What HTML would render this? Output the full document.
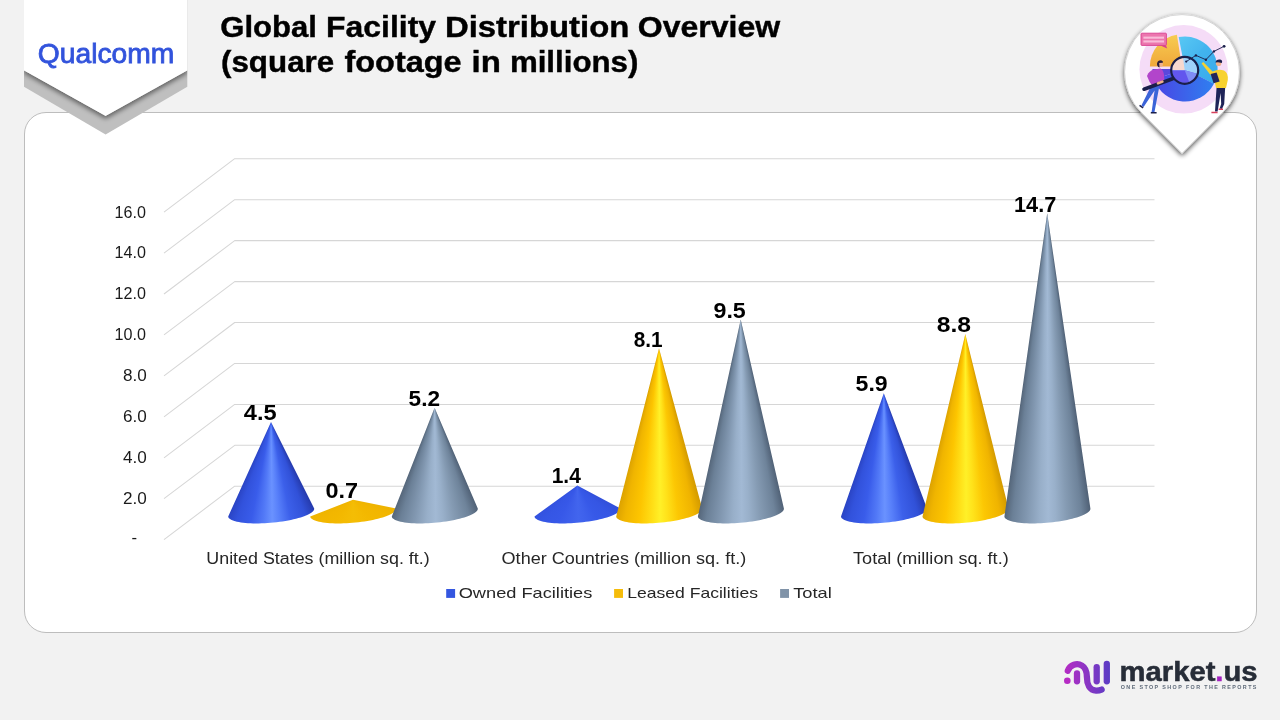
<!DOCTYPE html>
<html lang="en">
<head>
<meta charset="utf-8">
<title>Global Facility Distribution Overview (square footage in millions)</title>
<style>
html,body{margin:0;padding:0;background:#f2f2f2;}
#page{position:relative;width:1280px;height:720px;overflow:hidden;background:#f2f2f2;font-family:"Liberation Sans",sans-serif;}
#page svg{position:absolute;left:0;top:0;width:1280px;height:720px;}
.cone{position:absolute;}
text{font-family:"Liberation Sans",sans-serif;}
</style>
</head>
<body>
<div id="page">

<!-- ===== base layer: card, banner, gridlines ===== -->
<svg viewBox="0 0 1280 720">
  <defs>
    <filter id="bannerShadow" x="-20%" y="-20%" width="140%" height="150%">
      <feGaussianBlur in="SourceAlpha" stdDeviation="2.4"/>
      <feOffset dx="0" dy="3"/>
      <feComponentTransfer><feFuncA type="linear" slope="0.5"/></feComponentTransfer>
      <feMerge><feMergeNode/><feMergeNode in="SourceGraphic"/></feMerge>
    </filter>
    <clipPath id="grayClip"><path d="M24 0 H187.3 V86.7 L105.6 134.6 L24 86.7 Z"/></clipPath>
  </defs>

  <!-- white rounded card -->
  <rect x="24.5" y="112.5" width="1232" height="520" rx="21.5" ry="21.5" fill="#ffffff" stroke="#bdbdbd" stroke-width="1"/>

  <!-- Qualcomm banner: gray under-shape then white pentagon -->
  <path d="M24 0 H187.3 V86.7 L105.6 134.6 L24 86.7 Z" fill="#bfbfbf"/>
  <g clip-path="url(#grayClip)">
    <path d="M24 -10 H187.3 V70.3 L105.6 115.8 L24 70.3 Z" fill="#ffffff" filter="url(#bannerShadow)"/>
  </g>
  <path d="M24 0 H187.3 V70.3 L105.6 115.8 L24 70.3 Z" fill="#ffffff"/>

  <!-- chart gridlines (3-D wall + floor diagonals) -->
  <g fill="none" stroke="#d6d6d6" stroke-width="1.05" stroke-linejoin="round">
<path d="M164 539.6 L234.7 486.2 H1154.5"/>
<path d="M164 498.7 L234.7 445.3 H1154.5"/>
<path d="M164 457.8 L234.7 404.4 H1154.5"/>
<path d="M164 416.8 L234.7 363.4 H1154.5"/>
<path d="M164 375.9 L234.7 322.5 H1154.5"/>
<path d="M164 334.9 L234.7 281.6 H1154.5"/>
<path d="M164 294.0 L234.7 240.6 H1154.5"/>
<path d="M164 253.1 L234.7 199.7 H1154.5"/>
<path d="M164 212.1 L234.7 158.7 H1154.5"/>
  </g>
</svg>

<!-- ===== cones ===== -->
<div class="cone" style="left:227px;top:420px;width:89px;height:105px;clip-path:polygon(44.0px 2.0px,1.2px 96.5px,1.4px 97.2px,1.7px 97.9px,2.3px 98.5px,3.1px 99.1px,4.1px 99.7px,5.3px 100.3px,6.7px 100.8px,8.2px 101.3px,10.0px 101.7px,11.9px 102.1px,13.9px 102.4px,16.1px 102.7px,18.5px 103.0px,20.9px 103.2px,23.5px 103.3px,26.2px 103.4px,29.0px 103.4px,31.8px 103.4px,34.7px 103.3px,37.7px 103.2px,40.6px 103.0px,43.6px 102.8px,46.6px 102.5px,49.6px 102.2px,52.6px 101.8px,55.5px 101.4px,58.4px 100.9px,61.2px 100.4px,63.9px 99.9px,66.5px 99.3px,69.0px 98.7px,71.4px 98.0px,73.7px 97.4px,75.8px 96.7px,77.8px 96.0px,79.6px 95.2px,81.2px 94.5px,82.6px 93.7px,83.9px 93.0px,84.9px 92.2px,85.8px 91.5px,86.5px 90.7px,86.9px 90.0px,87.2px 89.2px,87.2px 88.5px);background:conic-gradient(from 0deg at 44.0px 2.0px,#253aac 153.5deg,#3151d8 159.7deg,#3c60ea 168.5deg,#5880fa 175.1deg,#6a92ff 179.3deg,#5279f7 184.4deg,#395cea 191.4deg,#3252dc 199.3deg,#2a44c4 204.4deg)"></div>
<div class="cone" style="left:309px;top:498px;width:89px;height:27px;clip-path:polygon(44.0px 1.8px,1.2px 18.5px,1.4px 19.2px,1.7px 19.9px,2.3px 20.5px,3.1px 21.1px,4.1px 21.7px,5.3px 22.3px,6.7px 22.8px,8.2px 23.3px,10.0px 23.7px,11.9px 24.1px,13.9px 24.4px,16.1px 24.7px,18.5px 25.0px,20.9px 25.2px,23.5px 25.3px,26.2px 25.4px,29.0px 25.4px,31.8px 25.4px,34.7px 25.3px,37.7px 25.2px,40.6px 25.0px,43.6px 24.8px,46.6px 24.5px,49.6px 24.2px,52.6px 23.8px,55.5px 23.4px,58.4px 22.9px,61.2px 22.4px,63.9px 21.9px,66.5px 21.3px,69.0px 20.7px,71.4px 20.0px,73.7px 19.4px,75.8px 18.7px,77.8px 18.0px,79.6px 17.2px,81.2px 16.5px,82.6px 15.7px,83.9px 15.0px,84.9px 14.2px,85.8px 13.5px,86.5px 12.7px,86.9px 12.0px,87.2px 11.2px,87.2px 10.5px);background:conic-gradient(from 0deg at 44.0px 1.8px,#eeb300 101.4deg,#f2b600 114.5deg,#f3b800 135.3deg,#f4bb03 158.7deg,#f4bd05 177.1deg,#f4bb03 198.4deg,#f3b800 221.1deg,#f2b600 238.1deg,#efb400 248.7deg)"></div>
<div class="cone" style="left:390px;top:406px;width:89px;height:119px;clip-path:polygon(44.6px 1.7px,1.8px 110.5px,2.0px 111.2px,2.3px 111.9px,2.9px 112.5px,3.7px 113.1px,4.7px 113.7px,5.9px 114.3px,7.3px 114.8px,8.8px 115.3px,10.6px 115.7px,12.5px 116.1px,14.5px 116.4px,16.7px 116.7px,19.1px 117.0px,21.5px 117.2px,24.1px 117.3px,26.8px 117.4px,29.6px 117.4px,32.4px 117.4px,35.3px 117.3px,38.3px 117.2px,41.2px 117.0px,44.2px 116.8px,47.2px 116.5px,50.2px 116.2px,53.2px 115.8px,56.1px 115.4px,59.0px 114.9px,61.8px 114.4px,64.5px 113.9px,67.1px 113.3px,69.6px 112.7px,72.0px 112.0px,74.3px 111.4px,76.4px 110.7px,78.4px 110.0px,80.2px 109.2px,81.8px 108.5px,83.2px 107.7px,84.5px 107.0px,85.5px 106.2px,86.4px 105.5px,87.1px 104.7px,87.5px 104.0px,87.8px 103.2px,87.8px 102.5px);background:conic-gradient(from 0deg at 44.6px 1.7px,#506176 156.8deg,#6e839a 162.2deg,#859bb3 169.9deg,#99b0ca 175.7deg,#a2b9d4 179.4deg,#98afc9 183.9deg,#8298b1 190.0deg,#6b8097 197.1deg,#55667a 201.5deg)"></div>
<div class="cone" style="left:533px;top:484px;width:89px;height:41px;clip-path:polygon(44.3px 1.4px,1.5px 32.5px,1.7px 33.2px,2.0px 33.9px,2.6px 34.5px,3.4px 35.1px,4.4px 35.7px,5.6px 36.3px,7.0px 36.8px,8.5px 37.3px,10.3px 37.7px,12.2px 38.1px,14.2px 38.4px,16.4px 38.7px,18.8px 39.0px,21.2px 39.2px,23.8px 39.3px,26.5px 39.4px,29.3px 39.4px,32.1px 39.4px,35.0px 39.3px,38.0px 39.2px,40.9px 39.0px,43.9px 38.8px,46.9px 38.5px,49.9px 38.2px,52.9px 37.8px,55.8px 37.4px,58.7px 36.9px,61.5px 36.4px,64.2px 35.9px,66.8px 35.3px,69.3px 34.7px,71.7px 34.0px,74.0px 33.4px,76.1px 32.7px,78.1px 32.0px,79.9px 31.2px,81.5px 30.5px,82.9px 29.7px,84.2px 29.0px,85.2px 28.2px,86.1px 27.5px,86.8px 26.7px,87.2px 26.0px,87.5px 25.2px,87.5px 24.5px);background:conic-gradient(from 0deg at 44.3px 1.4px,#3250da 118.1deg,#3556e4 131.0deg,#3759e8 150.0deg,#3e61ec 166.7deg,#4265ee 178.2deg,#3d5feb 191.7deg,#3758e8 208.4deg,#3556e5 224.1deg,#3352df 234.1deg)"></div>
<div class="cone" style="left:615px;top:347px;width:89px;height:178px;clip-path:polygon(44.0px 1.3px,1.2px 169.5px,1.4px 170.2px,1.7px 170.9px,2.3px 171.5px,3.1px 172.1px,4.1px 172.7px,5.3px 173.3px,6.7px 173.8px,8.2px 174.3px,10.0px 174.7px,11.9px 175.1px,13.9px 175.4px,16.1px 175.7px,18.5px 176.0px,20.9px 176.2px,23.5px 176.3px,26.2px 176.4px,29.0px 176.4px,31.8px 176.4px,34.7px 176.3px,37.7px 176.2px,40.6px 176.0px,43.6px 175.8px,46.6px 175.5px,49.6px 175.2px,52.6px 174.8px,55.5px 174.4px,58.4px 173.9px,61.2px 173.4px,63.9px 172.9px,66.5px 172.3px,69.0px 171.7px,71.4px 171.0px,73.7px 170.4px,75.8px 169.7px,77.8px 169.0px,79.6px 168.2px,81.2px 167.5px,82.6px 166.7px,83.9px 166.0px,84.9px 165.2px,85.8px 164.5px,86.5px 163.7px,86.9px 163.0px,87.2px 162.2px,87.2px 161.5px);background:conic-gradient(from 0deg at 44.0px 1.3px,#d39a00 164.9deg,#f0b400 168.3deg,#fcc703 173.4deg,#ffe21a 177.2deg,#fff028 179.6deg,#ffdd15 182.6deg,#fdc500 186.7deg,#f0b500 191.4deg,#dca200 194.3deg)"></div>
<div class="cone" style="left:696px;top:318px;width:89px;height:207px;clip-path:polygon(44.7px 1.6px,1.9px 198.5px,2.1px 199.2px,2.4px 199.9px,3.0px 200.5px,3.8px 201.1px,4.8px 201.7px,6.0px 202.3px,7.4px 202.8px,8.9px 203.3px,10.7px 203.7px,12.6px 204.1px,14.6px 204.4px,16.8px 204.7px,19.2px 205.0px,21.6px 205.2px,24.2px 205.3px,26.9px 205.4px,29.7px 205.4px,32.5px 205.4px,35.4px 205.3px,38.4px 205.2px,41.3px 205.0px,44.3px 204.8px,47.3px 204.5px,50.3px 204.2px,53.3px 203.8px,56.2px 203.4px,59.1px 202.9px,61.9px 202.4px,64.6px 201.9px,67.2px 201.3px,69.7px 200.7px,72.1px 200.0px,74.4px 199.4px,76.5px 198.7px,78.5px 198.0px,80.3px 197.2px,81.9px 196.5px,83.3px 195.7px,84.6px 195.0px,85.6px 194.2px,86.5px 193.5px,87.2px 192.7px,87.6px 192.0px,87.9px 191.2px,87.9px 190.5px);background:conic-gradient(from 0deg at 44.7px 1.6px,#506176 167.1deg,#6e839a 170.0deg,#859bb3 174.3deg,#99b0ca 177.6deg,#a2b9d4 179.7deg,#98afc9 182.2deg,#8298b1 185.7deg,#6b8097 189.8deg,#55667a 192.3deg)"></div>
<div class="cone" style="left:839px;top:392px;width:90px;height:133px;clip-path:polygon(44.8px 1.3px,2.0px 124.5px,2.2px 125.2px,2.5px 125.9px,3.1px 126.5px,3.9px 127.1px,4.9px 127.7px,6.1px 128.3px,7.5px 128.8px,9.0px 129.3px,10.8px 129.7px,12.7px 130.1px,14.7px 130.4px,16.9px 130.7px,19.3px 131.0px,21.7px 131.2px,24.3px 131.3px,27.0px 131.4px,29.8px 131.4px,32.6px 131.4px,35.5px 131.3px,38.5px 131.2px,41.4px 131.0px,44.4px 130.8px,47.4px 130.5px,50.4px 130.2px,53.4px 129.8px,56.3px 129.4px,59.2px 128.9px,62.0px 128.4px,64.7px 127.9px,67.3px 127.3px,69.8px 126.7px,72.2px 126.0px,74.5px 125.4px,76.6px 124.7px,78.6px 124.0px,80.4px 123.2px,82.0px 122.5px,83.4px 121.7px,84.7px 121.0px,85.7px 120.2px,86.6px 119.5px,87.3px 118.7px,87.7px 118.0px,88.0px 117.2px,88.0px 116.5px);background:conic-gradient(from 0deg at 44.8px 1.3px,#253aac 159.4deg,#3151d8 164.2deg,#3c60ea 171.1deg,#5880fa 176.2deg,#6a92ff 179.5deg,#5279f7 183.4deg,#395cea 189.0deg,#3252dc 195.2deg,#2a44c4 199.2deg)"></div>
<div class="cone" style="left:921px;top:332px;width:89px;height:193px;clip-path:polygon(44.3px 2.0px,1.5px 184.5px,1.7px 185.2px,2.0px 185.9px,2.6px 186.5px,3.4px 187.1px,4.4px 187.7px,5.6px 188.3px,7.0px 188.8px,8.5px 189.3px,10.3px 189.7px,12.2px 190.1px,14.2px 190.4px,16.4px 190.7px,18.8px 191.0px,21.2px 191.2px,23.8px 191.3px,26.5px 191.4px,29.3px 191.4px,32.1px 191.4px,35.0px 191.3px,38.0px 191.2px,40.9px 191.0px,43.9px 190.8px,46.9px 190.5px,49.9px 190.2px,52.9px 189.8px,55.8px 189.4px,58.7px 188.9px,61.5px 188.4px,64.2px 187.9px,66.8px 187.3px,69.3px 186.7px,71.7px 186.0px,74.0px 185.4px,76.1px 184.7px,78.1px 184.0px,79.9px 183.2px,81.5px 182.5px,82.9px 181.7px,84.2px 181.0px,85.2px 180.2px,86.1px 179.5px,86.8px 178.7px,87.2px 178.0px,87.5px 177.2px,87.5px 176.5px);background:conic-gradient(from 0deg at 44.3px 2.0px,#d39a00 166.1deg,#f0b400 169.2deg,#fcc703 173.9deg,#ffe21a 177.4deg,#fff028 179.7deg,#ffdd15 182.4deg,#fdc500 186.2deg,#f0b500 190.6deg,#dca200 193.2deg)"></div>
<div class="cone" style="left:1003px;top:212px;width:89px;height:313px;clip-path:polygon(44.2px 1.2px,1.4px 304.5px,1.6px 305.2px,1.9px 305.9px,2.5px 306.5px,3.3px 307.1px,4.3px 307.7px,5.5px 308.3px,6.9px 308.8px,8.4px 309.3px,10.2px 309.7px,12.1px 310.1px,14.1px 310.4px,16.3px 310.7px,18.7px 311.0px,21.1px 311.2px,23.7px 311.3px,26.4px 311.4px,29.2px 311.4px,32.0px 311.4px,34.9px 311.3px,37.9px 311.2px,40.8px 311.0px,43.8px 310.8px,46.8px 310.5px,49.8px 310.2px,52.8px 309.8px,55.7px 309.4px,58.6px 308.9px,61.4px 308.4px,64.1px 307.9px,66.7px 307.3px,69.2px 306.7px,71.6px 306.0px,73.9px 305.4px,76.0px 304.7px,78.0px 304.0px,79.8px 303.2px,81.4px 302.5px,82.8px 301.7px,84.1px 301.0px,85.1px 300.2px,86.0px 299.5px,86.7px 298.7px,87.1px 298.0px,87.4px 297.2px,87.4px 296.5px);background:conic-gradient(from 0deg at 44.2px 1.2px,#506176 171.7deg,#6e839a 173.5deg,#859bb3 176.3deg,#99b0ca 178.4deg,#a2b9d4 179.8deg,#98afc9 181.4deg,#8298b1 183.8deg,#6b8097 186.5deg,#55667a 188.0deg)"></div>

<!-- ===== top layer: all text ===== -->
<svg viewBox="0 0 1280 720">
  <!-- Qualcomm wordmark -->
  <text x="37.8" y="63.2" font-size="28" fill="#3253dc" stroke="#3253dc" stroke-width="0.8" textLength="136.6" lengthAdjust="spacingAndGlyphs">Qualcomm</text>

  <!-- title -->
  <g font-size="29" font-weight="bold" fill="#000000" stroke="#000000" stroke-width="0.4">
    <text y="37"><tspan x="220.3" textLength="96.6" lengthAdjust="spacingAndGlyphs">Global</tspan> <tspan x="326.1" textLength="110" lengthAdjust="spacingAndGlyphs">Facility</tspan> <tspan x="444.9" textLength="184.5" lengthAdjust="spacingAndGlyphs">Distribution</tspan> <tspan x="637.8" textLength="142.3" lengthAdjust="spacingAndGlyphs">Overview</tspan></text>
    <text y="71.7"><tspan x="221" textLength="113.2" lengthAdjust="spacingAndGlyphs">(square</tspan> <tspan x="344.5" textLength="117.1" lengthAdjust="spacingAndGlyphs">footage</tspan> <tspan x="471.6" textLength="29.3" lengthAdjust="spacingAndGlyphs">in</tspan> <tspan x="509.9" textLength="128.5" lengthAdjust="spacingAndGlyphs">millions)</tspan></text>
  </g>

  <!-- value axis -->
  <g font-size="15.6" fill="#1a1a1a">
<text x="146.0" y="217.5" text-anchor="end" textLength="31.4" lengthAdjust="spacingAndGlyphs">16.0</text>
<text x="146.0" y="258.4" text-anchor="end" textLength="31.4" lengthAdjust="spacingAndGlyphs">14.0</text>
<text x="146.0" y="299.4" text-anchor="end" textLength="31.4" lengthAdjust="spacingAndGlyphs">12.0</text>
<text x="146.0" y="340.3" text-anchor="end" textLength="31.4" lengthAdjust="spacingAndGlyphs">10.0</text>
<text x="146.7" y="381.3" text-anchor="end" textLength="23.8" lengthAdjust="spacingAndGlyphs">8.0</text>
<text x="146.7" y="422.2" text-anchor="end" textLength="23.8" lengthAdjust="spacingAndGlyphs">6.0</text>
<text x="146.7" y="463.1" text-anchor="end" textLength="23.8" lengthAdjust="spacingAndGlyphs">4.0</text>
<text x="146.7" y="504.1" text-anchor="end" textLength="23.8" lengthAdjust="spacingAndGlyphs">2.0</text>
<text x="134.2" y="543.4" text-anchor="middle" textLength="5.6" lengthAdjust="spacingAndGlyphs">-</text>
  </g>

  <!-- data labels -->
  <g font-size="22" font-weight="bold" fill="#000000">
<text x="243.8" y="419.7" textLength="32.8" lengthAdjust="spacingAndGlyphs">4.5</text>
<text x="325.5" y="497.8" textLength="32.6" lengthAdjust="spacingAndGlyphs">0.7</text>
<text x="408.6" y="406.2" textLength="31.4" lengthAdjust="spacingAndGlyphs">5.2</text>
<text x="551.7" y="482.5" textLength="29.1" lengthAdjust="spacingAndGlyphs">1.4</text>
<text x="633.7" y="346.8" textLength="28.9" lengthAdjust="spacingAndGlyphs">8.1</text>
<text x="713.5" y="317.9" textLength="32.3" lengthAdjust="spacingAndGlyphs">9.5</text>
<text x="855.6" y="390.8" textLength="32.1" lengthAdjust="spacingAndGlyphs">5.9</text>
<text x="936.8" y="331.9" textLength="34.3" lengthAdjust="spacingAndGlyphs">8.8</text>
<text x="1014.0" y="211.7" textLength="42.3" lengthAdjust="spacingAndGlyphs">14.7</text>
  </g>

  <!-- category labels -->
  <g font-size="15.6" fill="#262626">
    <text x="206.3" y="563.8" textLength="223.4" lengthAdjust="spacingAndGlyphs">United States (million sq. ft.)</text>
    <text x="501.6" y="563.8" textLength="244.6" lengthAdjust="spacingAndGlyphs">Other Countries (million sq. ft.)</text>
    <text x="853.1" y="563.8" textLength="155.6" lengthAdjust="spacingAndGlyphs">Total (million sq. ft.)</text>
  </g>

  <!-- legend -->
  <rect x="446.2" y="589" width="8.9" height="8.9" fill="#3456e0"/>
  <rect x="614.1" y="589" width="8.9" height="8.9" fill="#f5bc0a"/>
  <rect x="780.1" y="589" width="8.9" height="8.9" fill="#8093a8"/>
  <g font-size="14.4" fill="#262626">
    <text x="458.7" y="597.7" textLength="133.6" lengthAdjust="spacingAndGlyphs">Owned Facilities</text>
    <text x="627.2" y="597.7" textLength="130.8" lengthAdjust="spacingAndGlyphs">Leased Facilities</text>
    <text x="793.2" y="597.7" textLength="38.6" lengthAdjust="spacingAndGlyphs">Total</text>
  </g>

    <!-- ===== pin badge (top right) ===== -->
  <defs>
    <filter id="pinShadow" x="-20%" y="-20%" width="140%" height="140%">
      <feGaussianBlur in="SourceAlpha" stdDeviation="2.6"/>
      <feOffset dx="0" dy="2"/>
      <feComponentTransfer><feFuncA type="linear" slope="0.7"/></feComponentTransfer>
      <feMerge><feMergeNode/><feMergeNode in="SourceGraphic"/></feMerge>
    </filter>
    <linearGradient id="pieCyan" x1="0" y1="0" x2="1" y2="1"><stop offset="0" stop-color="#58c8f4"/><stop offset="1" stop-color="#2f9fe8"/></linearGradient>
    <linearGradient id="pieBlue" x1="0" y1="0" x2="1" y2="0"><stop offset="0" stop-color="#4a44e4"/><stop offset="1" stop-color="#2f7ff0"/></linearGradient>
    <linearGradient id="pieYel" x1="0" y1="0" x2="0" y2="1"><stop offset="0" stop-color="#f7cc52"/><stop offset="1" stop-color="#f0a83a"/></linearGradient>
    <clipPath id="lensClip"><circle cx="1184.7" cy="70.3" r="12.6"/></clipPath>
  </defs>
  <path d="M1182 153.4 L1141.4 112.6 A57.4 57.4 0 1 1 1222.6 112.6 Z" fill="#ffffff" stroke="#d0d0d0" stroke-width="0.8" stroke-linejoin="round" filter="url(#pinShadow)"/>
  <circle cx="1183.6" cy="69.3" r="44.2" fill="#f5dcf7"/>
  <!-- pie chart -->
  <path d="M1184.9 69.0 L1178.7 37.1 A32.5 32.5 0 0 1 1213.9 83.8 Z" fill="url(#pieCyan)"/>
  <path d="M1184.9 69.0 L1205.8 44.1 A32.5 32.5 0 0 1 1213.9 83.8 Z" fill="#3fb2ee" opacity="0.55"/>
  <path d="M1184.9 69.0 L1213.9 83.8 A32.5 32.5 0 0 1 1154.2 79.6 Z" fill="url(#pieBlue)"/>
  <path d="M1184.9 69.0 L1154.2 79.6 A32.5 32.5 0 0 1 1152.4 69.0 Z" fill="#5a48dc"/>
  <!-- exploded yellow slice -->
  <path d="M1181.9 66.4 L1149.9 66.4 A32.0 32.0 0 0 1 1176.9 34.8 Z" fill="url(#pieYel)"/>
  <!-- speech bubble -->
  <rect x="1141" y="33.2" width="25.4" height="12.2" rx="0.8" fill="#ec76ae" stroke="#d8408e" stroke-width="0.9"/>
  <path d="M1160.5 45.4 L1166 45.4 L1167.2 48.6 Z" fill="#d8408e"/>
  <rect x="1143.4" y="36.6" width="20.6" height="2.1" fill="#f9bcd9"/>
  <rect x="1143.4" y="40.4" width="20.6" height="2.1" fill="#f9bcd9"/>
  <!-- magnifier -->
  <g clip-path="url(#lensClip)">
    <circle cx="1184.7" cy="70.3" r="12.6" fill="#9fd2fa"/>
    <path d="M1184.7 70.3 L1172 70.3 L1172 57 L1183 57 Z" fill="#f7d8cf"/>
    <path d="M1184.7 70.3 L1198 74 L1198 84 L1172 84 L1172 70.3 Z" fill="#6256ee"/>
    <path d="M1184.7 70.3 L1198 74 L1198 84 L1190 84 Z" fill="#7f8cf6"/>
  </g>
  <circle cx="1184.7" cy="70.3" r="13.5" fill="none" stroke="#1b1f4b" stroke-width="2.2"/>
  <!-- trend line -->
  <polyline points="1186.2,61.6 1195.9,55.4 1205.9,59.7 1213.9,51.4 1224.1,46.3" fill="none" stroke="#1b1f4b" stroke-width="0.9"/>
  <g fill="#1b1f4b"><circle cx="1186.2" cy="61.6" r="1.1"/><circle cx="1195.9" cy="55.4" r="1.2"/><circle cx="1205.9" cy="59.7" r="1.2"/><circle cx="1213.9" cy="51.4" r="1.2"/><circle cx="1224.1" cy="46.3" r="1.4"/></g>
  <!-- left person -->
  <path d="M1151.6 85 L1141.4 105.6 L1143.6 107 L1154.6 90.5 L1151.6 112 L1154.4 112.4 L1159.6 85 Z" fill="#3b63d8"/>
  <path d="M1147 76 Q1148.8 70.4 1154.4 69.4 L1160.4 68.6 Q1163.4 70 1164 75 L1164.6 83 L1153 86.6 L1149.6 82 Z" fill="#b245cb"/>
  <circle cx="1160.2" cy="64.2" r="2.7" fill="#f0b08c"/>
  <path d="M1157 63.4 Q1157.8 60 1161.6 60.4 Q1163.6 61.2 1162.8 62.8 L1159.2 63 L1159.6 67.4 Q1156.8 66.6 1157 63.4 Z" fill="#2a1f3d"/>
  <path d="M1150.8 112 h5.8 v1.6 h-5.8 Z M1140 104.8 l3.6 2.4 l-0.9 1.3 l-3.6 -2.4 Z" fill="#1b1f4b"/>
  <path d="M1172.6 78.8 L1144 89.2" stroke="#1b1f4b" stroke-width="3.6" stroke-linecap="round" fill="none"/>
  <path d="M1158 83.2 l4.4 -1.6" stroke="#f0b08c" stroke-width="2.6" stroke-linecap="round"/>
  <!-- right person -->
  <path d="M1216.6 87 L1215 111.4 L1217.6 111.6 L1220.6 93 L1221.2 104 L1219.6 108.6 L1222 109 L1224.2 104 L1225.2 87 Z" fill="#1f2458"/>
  <path d="M1212.6 71.4 Q1218.6 68.6 1224 70.4 Q1228.4 72.6 1227.8 80 L1226 88 L1216 88 L1214.4 80 L1201.6 63.6 L1203.2 62 Z" fill="#f7d230"/>
  <circle cx="1218.6" cy="63.4" r="2.7" fill="#f0b08c"/>
  <path d="M1215.4 62.6 Q1216 59.2 1220.2 59.6 Q1223 60.6 1221.8 63 L1218 62.2 Z" fill="#1b1f4b"/>
  <path d="M1210.6 74 L1216.6 72.4 L1219.6 81.6 L1213.6 83.2 Z" fill="#23275c"/>
  <path d="M1211.4 111.8 h6.2 v1.5 h-6.2 Z M1218.6 108.6 h4.4 v1.4 h-4.4 Z" fill="#d8405c"/>


    <!-- ===== market.us logo (bottom right) ===== -->
  <defs>
    <linearGradient id="muGrad" gradientUnits="userSpaceOnUse" x1="1064" y1="0" x2="1110" y2="0"><stop offset="0" stop-color="#b62cc4"/><stop offset="0.5" stop-color="#8a36c4"/><stop offset="1" stop-color="#5a3cc4"/></linearGradient>
  </defs>
  <g fill="none" stroke="url(#muGrad)" stroke-width="6.3" stroke-linecap="round" stroke-linejoin="round">
    <path d="M1067.8 670.8 C1070 664.6 1077 662.6 1082 665.6 C1086 668 1086.9 672 1086.9 677 C1086.9 684 1089.5 690.4 1096 690.6 C1098.4 690.7 1100 690.3 1101.6 689.6"/>
    <path d="M1077 673.4 V681.3"/>
    <path d="M1096.7 667.2 V681.3"/>
    <path d="M1106.8 663.8 V681.3"/>
  </g>
  <circle cx="1067.3" cy="680.8" r="3.3" fill="#b62cc4"/>
  <text x="1119.6" y="680.9" font-size="27" font-weight="bold" fill="#272d38" stroke="#272d38" stroke-width="0.5" textLength="138" lengthAdjust="spacingAndGlyphs">market<tspan fill="#a322c0" stroke="#a322c0">.</tspan>us</text>
  <text x="1120.8" y="688.8" font-size="5.4" font-weight="bold" fill="#5f6b7a" textLength="135.6" lengthAdjust="spacing">ONE STOP SHOP FOR THE REPORTS</text>

</svg>

</div>
</body>
</html>
